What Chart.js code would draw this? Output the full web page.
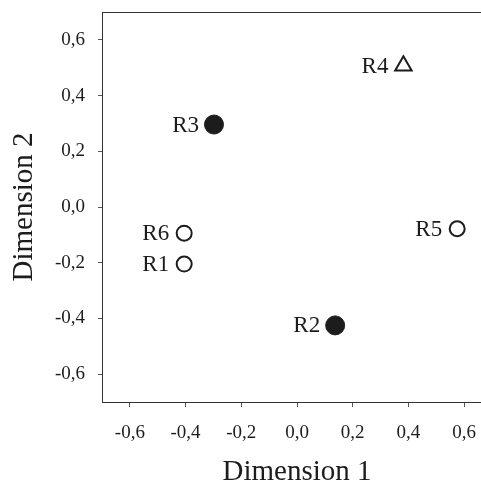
<!DOCTYPE html>
<html>
<head>
<meta charset="utf-8">
<script src="https://cdn.jsdelivr.net/npm/chart.js@4.4.1/dist/chart.umd.min.js"></script>
<style>
  html, body { margin: 0; padding: 0; background: #fff; overflow: hidden; }
  #wrap { width: 510px; height: 500px; }
</style>
</head>
<body>
<div id="wrap"><canvas id="mds" width="510" height="500"></canvas></div>
<script>
const pointLabels = ['R1', 'R2', 'R3', 'R4', 'R5', 'R6'];
const dim1 = [-0.405, 0.137, -0.298, 0.382, 0.575, -0.405];
const dim2 = [-0.205, -0.425, 0.296, 0.507, -0.078, -0.094];
const groups = ['open', 'filled', 'filled', 'triangle', 'open', 'open'];
const xTicks = [-0.6, -0.4, -0.2, 0.0, 0.2, 0.4, 0.6];
const yTicks = [-0.6, -0.4, -0.2, 0.0, 0.2, 0.4, 0.6];

const ink = '#1c1c1c';
const serif = 'Liberation Serif, Times New Roman, serif';

const styleOf = {
  open: { pointStyle: 'circle', radius: 7.5, bg: '#fff', border: 2 },
  filled: { pointStyle: 'circle', radius: 9.5, bg: ink, border: 1 },
  triangle: { pointStyle: 'triangle', radius: 9.5, bg: '#fff', border: 2 }
};

const fmt = v => v.toFixed(1).replace('.', ',');

// top frame line + text labels left of each point
const extras = {
  id: 'extras',
  afterDraw(chart) {
    const c = chart.ctx;
    const a = chart.chartArea;
    c.save();
    c.strokeStyle = '#333';
    c.lineWidth = 1;
    c.beginPath();
    c.moveTo(a.left, a.top + 0.5);
    c.lineTo(a.right, a.top + 0.5);
    c.stroke();

    c.fillStyle = ink;
    c.font = '23px ' + serif;
    c.textAlign = 'right';
    c.textBaseline = 'middle';
    chart.getDatasetMeta(0).data.forEach((pt, i) => {
      c.fillText(pointLabels[i], pt.x - 15, pt.y + 1);
    });
    c.restore();
  }
};

new Chart(document.getElementById('mds'), {
  type: 'scatter',
  data: {
    labels: pointLabels,
    datasets: [{
      data: dim1.map((x, i) => ({ x: x, y: dim2[i] })),
      pointStyle: ctx => styleOf[groups[ctx.dataIndex]].pointStyle,
      pointRadius: ctx => styleOf[groups[ctx.dataIndex]].radius,
      pointBackgroundColor: ctx => styleOf[groups[ctx.dataIndex]].bg,
      pointBorderColor: ink,
      pointBorderWidth: ctx => styleOf[groups[ctx.dataIndex]].border,
      clip: false
    }]
  },
  options: {
    responsive: false,
    animation: false,
    events: [],
    layout: { padding: { left: 0, top: 12, right: 18, bottom: 0 } },
    plugins: { legend: { display: false }, tooltip: { enabled: false } },
    scales: {
      x: {
        type: 'linear',
        min: -0.7,
        max: 0.7,
        afterBuildTicks: axis => { axis.ticks = xTicks.map(v => ({ value: v })); },
        afterFit: axis => { axis.height = 98; axis.paddingLeft = 0; axis.paddingRight = 0; },
        border: { display: true, color: '#333', width: 1 },
        grid: { drawOnChartArea: false, drawTicks: true, tickLength: 5, color: '#555' },
        ticks: {
          padding: 15,
          maxRotation: 0,
          color: ink,
          font: { family: serif, size: 19 },
          callback: v => fmt(v)
        },
        title: {
          display: true,
          text: 'Dimension 1',
          color: ink,
          font: { family: serif, size: 29, lineHeight: 1.2 },
          padding: { top: 0, bottom: 10 }
        }
      },
      y: {
        type: 'linear',
        min: -0.7,
        max: 0.7,
        afterBuildTicks: axis => { axis.ticks = yTicks.map(v => ({ value: v })); },
        afterFit: axis => { axis.width = 102; axis.paddingTop = 0; axis.paddingBottom = 0; },
        border: { display: true, color: '#333', width: 1 },
        grid: { drawOnChartArea: false, drawTicks: true, tickLength: 4, color: '#555' },
        ticks: {
          padding: 13,
          color: ink,
          font: { family: serif, size: 19 },
          callback: v => fmt(v)
        },
        title: {
          display: true,
          text: 'Dimension 2',
          color: ink,
          font: { family: serif, size: 29, lineHeight: 1.2 },
          padding: { top: 7, bottom: 0 }
        }
      }
    }
  },
  plugins: [extras]
});
</script>
</body>
</html>
